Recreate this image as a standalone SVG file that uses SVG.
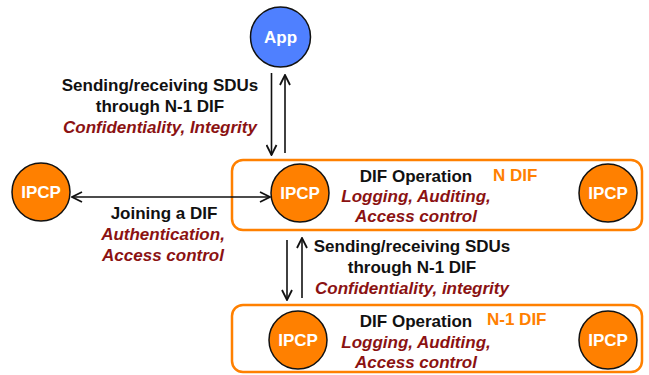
<svg xmlns="http://www.w3.org/2000/svg" width="649" height="375" viewBox="0 0 649 375">
<style>
.b{font-family:"Liberation Sans",Arial,sans-serif;font-weight:bold;font-size:17px;fill:#111;text-anchor:middle}
.i{font-family:"Liberation Sans",Arial,sans-serif;font-weight:bold;font-style:italic;font-size:17px;fill:#8b1212;text-anchor:middle}
.o{font-family:"Liberation Sans",Arial,sans-serif;font-weight:bold;font-size:17px;fill:#ff8000}
.w{font-family:"Liberation Sans",Arial,sans-serif;font-weight:bold;font-size:17px;fill:#fff;text-anchor:middle}
.ipcp{fill:#ff8000;stroke:#111;stroke-width:1.5}
.dif{fill:#fff;stroke:#ff8000;stroke-width:2.5}
.c{stroke:#111;stroke-width:1.6;fill:none}
</style>
<defs>
<marker id="ah" viewBox="0 0 12 12" refX="11" refY="6" markerWidth="12" markerHeight="12" markerUnits="userSpaceOnUse" orient="auto-start-reverse">
<path d="M1,1 L11,6 L1,11" fill="none" stroke="#111" stroke-width="1.8"/>
</marker>
</defs>
<g id="ndif"><rect class="dif" x="232" y="160" width="410" height="70" rx="11"/><text class="o" x="493" y="181">N DIF</text>
<text class="b" x="416" y="182">DIF Operation</text><text class="i" x="416" y="202">Logging, Auditing,</text><text class="i" x="416" y="222">Access control</text></g>
<g id="n1dif"><rect class="dif" x="232" y="305" width="410" height="67" rx="11"/><text class="o" x="487" y="325">N-1 DIF</text>
<text class="b" x="416" y="327">DIF Operation</text><text class="i" x="416" y="348">Logging, Auditing,</text><text class="i" x="416" y="368">Access control</text></g>
<g id="app"><circle cx="280.5" cy="37" r="30" fill="#4f80ff" stroke="#111" stroke-width="1.5"/><text class="w" x="280.5" y="43">App</text></g>
<g id="ipcp-left"><circle class="ipcp" cx="41" cy="192" r="29"/><text class="w" x="41" y="198">IPCP</text></g>
<g id="ipcp-n1"><circle class="ipcp" cx="300" cy="193" r="29"/><text class="w" x="300" y="199">IPCP</text></g>
<g id="ipcp-n2"><circle class="ipcp" cx="608" cy="193" r="29"/><text class="w" x="608" y="199">IPCP</text></g>
<g id="ipcp-m1"><circle class="ipcp" cx="298" cy="340" r="29"/><text class="w" x="298" y="346">IPCP</text></g>
<g id="ipcp-m2"><circle class="ipcp" cx="608" cy="340" r="29"/><text class="w" x="608" y="346">IPCP</text></g>
<g id="connectors">
<line class="c" x1="271.5" y1="73" x2="271.5" y2="155" marker-end="url(#ah)"/>
<line class="c" x1="285" y1="153" x2="285" y2="75" marker-end="url(#ah)"/>
<line class="c" x1="72" y1="197" x2="270" y2="197" marker-start="url(#ah)" marker-end="url(#ah)"/>
<line class="c" x1="287" y1="240" x2="287" y2="300" marker-end="url(#ah)"/>
<line class="c" x1="302" y1="298" x2="302" y2="238" marker-end="url(#ah)"/>
</g>
<g id="labels">
<text class="b" x="160" y="91">Sending/receiving SDUs</text>
<text class="b" x="160" y="112">through N-1 DIF</text>
<text class="i" x="160" y="133">Confidentiality, Integrity</text>
<text class="b" x="164" y="219">Joining a DIF</text>
<text class="i" x="163" y="240">Authentication,</text>
<text class="i" x="163" y="261">Access control</text>
<text class="b" x="412" y="252">Sending/receiving SDUs</text>
<text class="b" x="412" y="273">through N-1 DIF</text>
<text class="i" x="412" y="294">Confidentiality, integrity</text>
</g>
</svg>
